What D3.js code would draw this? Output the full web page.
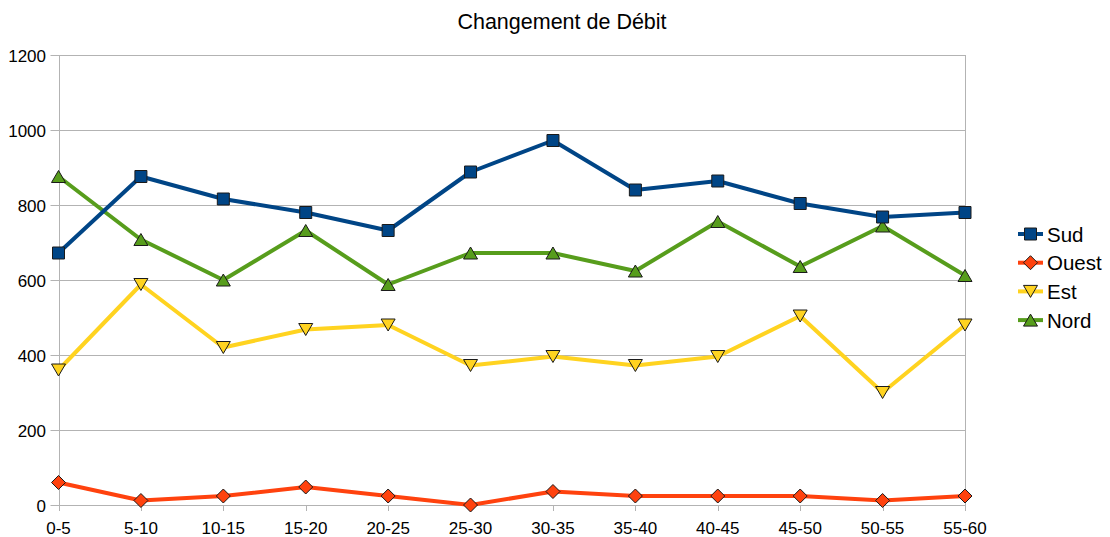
<!DOCTYPE html>
<html>
<head>
<meta charset="utf-8">
<script src="https://cdn.jsdelivr.net/npm/d3@7"></script>
<style>
  body { margin: 0; background: #fff; }
  svg { font-family: "Liberation Sans", Arial, sans-serif; }
</style>
</head>
<body>
<div id="chart"></div>
<script>
/* données */
var categories = ["0-5","5-10","10-15","15-20","20-25","25-30","30-35","35-40","40-45","45-50","50-55","55-60"];
var sud   = [672, 876, 816, 780, 732, 888, 972, 840, 864, 804, 768, 780];
var ouest = [60, 12, 24, 48, 24, 0, 36, 24, 24, 24, 12, 24];
var est   = [360, 588, 420, 468, 480, 372, 396, 372, 396, 504, 300, 480];
var nord  = [876, 708, 600, 732, 588, 672, 672, 624, 756, 636, 744, 612];
var yTicks = [0, 200, 400, 600, 800, 1000, 1200];

var series = [
  { name: "Sud",   values: sud,   color: "#004586", symbol: "square" },
  { name: "Ouest", values: ouest, color: "#ff420e", symbol: "diamond" },
  { name: "Est",   values: est,   color: "#ffd320", symbol: "down" },
  { name: "Nord",  values: nord,  color: "#579d1c", symbol: "up" }
];

var W = 1110, H = 537;
var margin = { top: 55, right: 145, bottom: 32, left: 58.5 };

var svg = d3.select("#chart").append("svg")
    .attr("width", W)
    .attr("height", H);

var x = d3.scalePoint()
    .domain(categories)
    .range([margin.left, W - margin.right])
    .padding(0);

var y = d3.scaleLinear()
    .domain([0, 1200])
    .range([H - margin.bottom, margin.top]);

// titre
svg.append("text")
    .attr("x", 562)
    .attr("y", 29)
    .attr("text-anchor", "middle")
    .style("font-size", "21.5px")
    .text("Changement de Débit");

// grille horizontale
svg.append("g")
  .selectAll("line")
  .data(yTicks)
  .enter().append("line")
    .attr("x1", margin.left - 8)
    .attr("x2", W - margin.right)
    .attr("y1", function(d) { return Math.round(y(d)) + 0.5; })
    .attr("y2", function(d) { return Math.round(y(d)) + 0.5; })
    .attr("stroke", "#b3b3b3")
    .attr("stroke-width", 1);

// bords verticaux
[margin.left, W - margin.right].forEach(function(px) {
  svg.append("line")
    .attr("x1", Math.round(px) + 0.5).attr("x2", Math.round(px) + 0.5)
    .attr("y1", y(1200)).attr("y2", y(0) + 5)
    .attr("stroke", "#b3b3b3");
});

// ticks x
svg.append("g")
  .selectAll("line")
  .data(categories)
  .enter().append("line")
    .attr("x1", function(d) { return Math.round(x(d)) + 0.5; })
    .attr("x2", function(d) { return Math.round(x(d)) + 0.5; })
    .attr("y1", y(0))
    .attr("y2", y(0) + 6)
    .attr("stroke", "#b3b3b3");

// axe y labels
svg.append("g")
  .selectAll("text")
  .data(yTicks)
  .enter().append("text")
    .attr("x", 46)
    .attr("y", function(d) { return y(d) + 6.5; })
    .attr("text-anchor", "end")
    .style("font-size", "17px")
    .text(function(d) { return d; });

// axe x labels
svg.append("g")
  .selectAll("text")
  .data(categories)
  .enter().append("text")
    .attr("x", function(d) { return x(d); })
    .attr("y", y(0) + 28.5)
    .attr("text-anchor", "middle")
    .style("font-size", "17px")
    .text(function(d) { return d; });

// symboles
function symbolPath(type, cx, cy) {
  var s = 6;
  if (type === "square")  return "M" + (cx - s) + "," + (cy - s) + "h" + 2 * s + "v" + 2 * s + "h" + (-2 * s) + "Z";
  if (type === "diamond") return "M" + cx + "," + (cy - s - 1) + "L" + (cx + s + 1) + "," + cy + "L" + cx + "," + (cy + s + 1) + "L" + (cx - s - 1) + "," + cy + "Z";
  if (type === "down")    return "M" + (cx - s - 1) + "," + (cy - s) + "L" + (cx + s + 1) + "," + (cy - s) + "L" + cx + "," + (cy + s) + "Z";
  return "M" + (cx - s - 1) + "," + (cy + s) + "L" + (cx + s + 1) + "," + (cy + s) + "L" + cx + "," + (cy - s) + "Z";
}

var line = d3.line()
    .x(function(d, i) { return x(categories[i]); })
    .y(function(d) { return y(d); });

// ordre de dessin : Nord, Est, Ouest, Sud (Sud au-dessus)
series.slice().reverse().forEach(function(s) {
  var g = svg.append("g");
  g.append("path")
    .datum(s.values)
    .attr("d", line)
    .attr("fill", "none")
    .attr("stroke", s.color)
    .attr("stroke-width", 4)
    .attr("stroke-linejoin", "round");
  g.selectAll("path.mk")
    .data(s.values)
    .enter().append("path")
      .attr("class", "mk")
      .attr("d", function(d, i) { return symbolPath(s.symbol, x(categories[i]), y(d)); })
      .attr("fill", s.color)
      .attr("stroke", "#1a1a1a")
      .attr("stroke-width", 1);
});

// légende
var legend = svg.append("g");
series.forEach(function(s, i) {
  var ly = 234 + i * 28.7;
  legend.append("line")
    .attr("x1", 1018).attr("x2", 1043)
    .attr("y1", ly).attr("y2", ly)
    .attr("stroke", s.color)
    .attr("stroke-width", 4);
  legend.append("path")
    .attr("d", symbolPath(s.symbol, 1030.5, ly))
    .attr("fill", s.color)
    .attr("stroke", "#1a1a1a");
  legend.append("text")
    .attr("x", 1047)
    .attr("y", ly + 7.5)
    .style("font-size", "20.5px")
    .text(s.name);
});
</script>
</body>
</html>
